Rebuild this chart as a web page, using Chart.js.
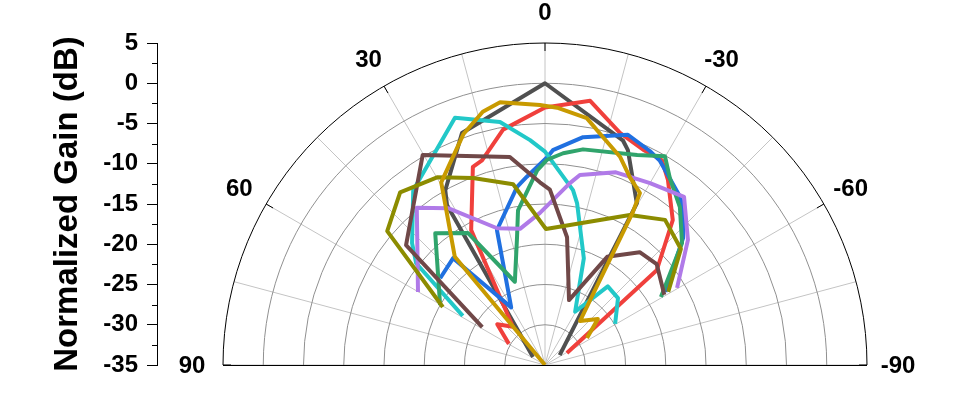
<!DOCTYPE html>
<html lang="en">
  <head>
    <meta charset="utf-8" />
    <title>Normalized Gain polar plot</title>
    <style>
      * {
        margin: 0;
        padding: 0;
      }
      body {
        background: #fff;
      }
      .chartBox {
        width: 967px;
        height: 398px;
      }
    </style>
  </head>
  <body>
    <div class="chartBox">
      <canvas id="myChart"></canvas>
    </div>

    <script src="https://cdn.jsdelivr.net/npm/chart.js"></script>

    <script>
      // radial axis (dB) and angular axis (deg)
      const gainMin = -35;
      const gainMax = 5;
      const gainTicks = [5, 0, -5, -10, -15, -20, -25, -30, -35];
      const ringLevels = [-30, -25, -20, -15, -10, -5, 0];
      const angleLabels = [90, 60, 30, 0, -30, -60, -90];
      const spokeAngles = [90, 75, 60, 45, 30, 15, 0, -15, -30, -45, -60, -75, -90];

      // series: angle (deg) and normalized gain (dB)
      const grayAng = [56, 31.5, 29.7, 19.7, 0, -19.2, -21.1, -29.6, -56];
      const grayGain = [-33.2, -11.7, -10.0, -4.4, 0, -5.5, -6.4, -11.9, -32.8];

      const redAng = [59.7, 49.5, 40.1, 28.7, 20, 17.1, 10.1, 0, -9.7, -17.9, -24.5, -29.7, -33.6, -41.4, -49.7, -61.4];
      const redGain = [-29.8, -27.2, -28.8, -15.9, -8.8, -8.4, -5.3, -3.0, -1.7, -4.7, -5.6, -5.7, -7.4, -11.0, -16.8, -31.9];

      const blueAng = [50.4, 40.7, 30.4, 19.6, 8.9, 5.5, -0.6, -2.1, -9.5, -19.8, -26.1, -29.4, -38.8, -42.4, -47.4, -58.7];
      const blueGain = [-18.1, -17.5, -26.7, -17.2, -12.6, -11.5, -9.2, -8.3, -6.3, -4.6, -5.4, -5.9, -8.2, -9.4, -11.7, -17.5];

      const cyanAng = [59.1, 51.7, 47.5, 37.0, 20.0, 10.5, 3.8, 0, -9.1, -11.2, -20.0, -29.5, -38.6, -47.5, -59.6];
      const cyanGain = [-23.1, -14.6, -12.6, -7.8, -2.3, -4.3, -7.0, -8.5, -13.0, -14.5, -20.9, -27.4, -22.5, -22.7, -24.9];

      const greenAng = [60.3, 39.8, 30.3, 19.9, 12.3, 9.9, 2.3, -0.6, -4.9, -10, -23.7, -29.9, -33.8, -40.5, -48.3, -59.6];
      const greenGain = [-20.0, -13.7, -16.0, -24.0, -18.7, -15.5, -10.8, -9.5, -8.6, -7.8, -6.5, -5.1, -7.1, -9.2, -12.2, -18.3];

      const purpleAng = [60.1, 39.2, 31.7, 19.3, 10.4, 1.9, -7.8, -10.4, -20.2, -30, -39.6, -48.8, -59.7];
      const purpleGain = [-16.8, -9.8, -12.1, -17.0, -17.8, -16.1, -12.2, -11.0, -9.5, -8.9, -7.9, -11.4, -16.0];

      const brownAng = [58.9, 49.2, 30.2, 9.6, 1.6, -1.6, -9.8, -20.3, -29.9, -40, -47.9, -59.5];
      const brownGain = [-25.9, -12.2, -4.8, -8.8, -12.3, -13.2, -18.9, -26.4, -19.5, -16.7, -16.3, -17.8];

      const oliveAng = [60.4, 49.7, 40, 29.9, 21.1, 10, -0.4, -29.5, -39.6, -49.5, -59.3];
      const oliveGain = [-20.4, -9.3, -7.0, -8.1, -10.1, -12.2, -18.1, -13.6, -11.6, -12.8, -17.2];

      const goldAng = [60, 39.8, 29.6, 19.5, 13.8, 9.7, 1.1, -2.7, -9.6, -14.3, -19.8, -24.3, -28.9, -29.9, -38.5, -49, -57.3];
      const goldGain = [-35, -17.5, -8.9, -4.6, -2.6, -1.9, -2.7, -3.0, -3.9, -5.8, -7.5, -9.4, -10.6, -13.1, -28.0, -26.3, -28.8];

      const FONT = "'Liberation Sans', Arial, sans-serif";
      Chart.defaults.font.family = FONT;

      // polar -> cartesian, in dB units measured from the centre
      const toPoints = (ang, gain) =>
        ang.map((a, i) => {
          const r = gain[i] - gainMin;
          const t = (a * Math.PI) / 180;
          return { x: -r * Math.sin(t), y: r * Math.cos(t) };
        });

      const series = [
        { label: "gray", color: "#505050", ang: grayAng, gain: grayGain },
        { label: "red", color: "#f0403c", ang: redAng, gain: redGain },
        { label: "blue", color: "#2070e0", ang: blueAng, gain: blueGain },
        { label: "cyan", color: "#22c8c8", ang: cyanAng, gain: cyanGain },
        { label: "green", color: "#30a46c", ang: greenAng, gain: greenGain },
        { label: "purple", color: "#b07ae8", ang: purpleAng, gain: purpleGain },
        { label: "brown", color: "#704848", ang: brownAng, gain: brownGain },
        { label: "olive", color: "#8c8c00", ang: oliveAng, gain: oliveGain },
        { label: "gold", color: "#c89a00", ang: goldAng, gain: goldGain },
      ];

      const data = {
        datasets: series.map((s, i) => ({
          label: s.label,
          data: toPoints(s.ang, s.gain),
          showLine: true,
          borderColor: s.color,
          backgroundColor: s.color,
          borderWidth: 4,
          borderJoinStyle: "round",
          pointRadius: 0,
          tension: 0,
          order: series.length - i, // later series on top
        })),
      };

      // polar grid, outer frame, angle labels, minor ticks on the gain axis
      const polarGrid = {
        id: "polarGrid",
        beforeDatasetsDraw(chart) {
          const {
            ctx,
            scales: { x, y },
          } = chart;
          const cx = x.getPixelForValue(0);
          const cy = y.getPixelForValue(0);
          const px = (v) => x.getPixelForValue(v) - cx;
          const R = px(gainMax - gainMin);
          ctx.save();

          ctx.lineWidth = 1;
          ctx.strokeStyle = "#c4c4c4";
          spokeAngles.forEach((a) => {
            const t = (a * Math.PI) / 180;
            ctx.beginPath();
            ctx.moveTo(cx, cy);
            ctx.lineTo(cx - R * Math.sin(t), cy - R * Math.cos(t));
            ctx.stroke();
          });

          ctx.strokeStyle = "#909090";
          ringLevels.forEach((g) => {
            ctx.beginPath();
            ctx.arc(cx, cy, px(g - gainMin), Math.PI, 2 * Math.PI);
            ctx.stroke();
          });

          ctx.strokeStyle = "#000";
          ctx.beginPath();
          ctx.arc(cx, cy, R, Math.PI, 2 * Math.PI);
          ctx.stroke();
          ctx.beginPath();
          ctx.moveTo(cx - R, cy + 0.5);
          ctx.lineTo(cx + R, cy + 0.5);
          ctx.stroke();

          // short inward ticks on the frame
          angleLabels.forEach((a) => {
            const t = (a * Math.PI) / 180;
            ctx.beginPath();
            ctx.moveTo(cx - R * Math.sin(t), cy - R * Math.cos(t));
            ctx.lineTo(cx - (R - 8) * Math.sin(t), cy - (R - 8) * Math.cos(t));
            ctx.stroke();
          });

          ctx.fillStyle = "#000";
          ctx.font = "bold 24px " + FONT;
          ctx.textAlign = "center";
          ctx.textBaseline = "middle";
          const RL = R + 31;
          angleLabels.forEach((a) => {
            const t = (a * Math.PI) / 180;
            ctx.fillText(String(a), cx - RL * Math.sin(t), cy - RL * Math.cos(t) + 1);
          });

          // minor ticks of the gain axis
          const ax = chart.chartArea.left;
          for (let v = 2.5; v < gainMax - gainMin; v += 5) {
            const yy = Math.round(y.getPixelForValue(v)) + 0.5;
            ctx.beginPath();
            ctx.moveTo(ax - 5, yy);
            ctx.lineTo(ax, yy);
            ctx.stroke();
          }
          ctx.restore();
        },
      };

      const config = {
        type: "scatter",
        data: data,
        options: {
          responsive: true,
          maintainAspectRatio: false,
          animation: false,
          layout: {
            padding: { left: 0, right: 34, top: 43, bottom: 33 },
          },
          scales: {
            x: {
              type: "linear",
              min: -48.2,
              max: 48.2,
              display: false,
            },
            y: {
              type: "linear",
              min: 0,
              max: gainMax - gainMin,
              afterBuildTicks(scale) {
                scale.ticks = gainTicks.map((g) => ({ value: g - gainMin }));
              },
              afterFit(scale) {
                scale.width = 157;
              },
              ticks: {
                callback: (v) => v + gainMin,
                color: "#000",
                padding: 9,
                font: { size: 24, weight: "bold" },
              },
              grid: {
                drawOnChartArea: false,
                tickLength: 10,
                color: "#000",
                tickColor: "#000",
              },
              border: { color: "#000" },
              title: {
                display: true,
                text: "Normalized Gain (dB)",
                color: "#000",
                font: { size: 33, weight: "bold" },
                padding: { top: 48, bottom: 0 },
              },
            },
          },
          plugins: {
            legend: { display: false },
            tooltip: { enabled: false },
          },
        },
        plugins: [polarGrid],
      };

      const myChart = new Chart(document.getElementById("myChart"), config);
    </script>
  </body>
</html>
